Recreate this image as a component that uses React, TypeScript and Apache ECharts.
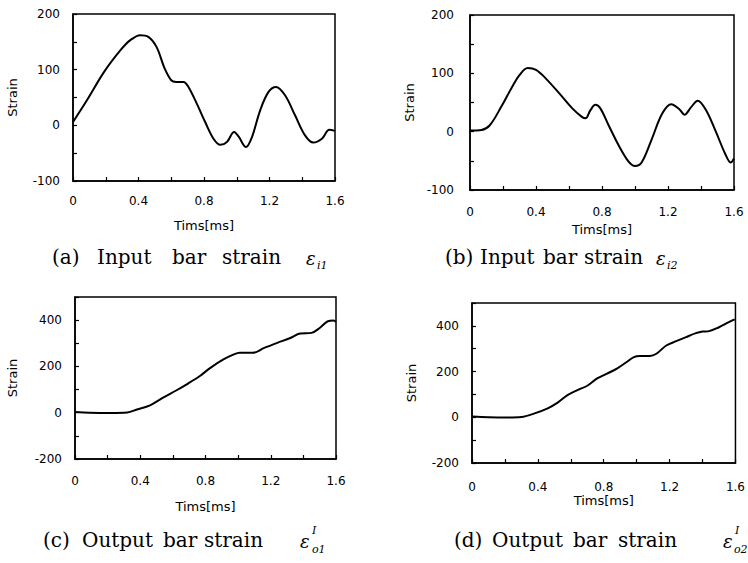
import React, { useEffect, useRef } from "react";
import * as echarts from "echarts";

// Panel (a): input bar strain eps_i1
const timeA = [0, 0.085, 0.19, 0.29, 0.35, 0.41, 0.46, 0.51, 0.56, 0.6, 0.63, 0.675, 0.705, 0.756, 0.807, 0.858, 0.9, 0.94, 0.984, 1.011, 1.056, 1.093, 1.143, 1.194, 1.24, 1.295, 1.356, 1.417, 1.468, 1.52, 1.565, 1.6];
const strainA = [6, 45, 96, 135, 153, 162, 159, 141, 102, 81, 78, 78, 69, 39, 6, -24, -35, -30, -12, -20, -39, -21, 27, 60, 69, 54, 18, -18, -31, -24, -8, -10];

// Panel (b): input bar strain eps_i2
const timeB = [0, 0.07, 0.12, 0.19, 0.25, 0.3, 0.35, 0.4, 0.46, 0.54, 0.62, 0.68, 0.7, 0.73, 0.76, 0.79, 0.84, 0.9, 0.96, 1.0, 1.04, 1.1, 1.165, 1.22, 1.27, 1.3, 1.34, 1.38, 1.43, 1.49, 1.545, 1.58, 1.6];
const strainB = [2, 3, 11, 43, 74, 97, 109, 106, 91, 66, 40, 25, 23, 37, 46, 40, 11, -23, -51, -59, -53, -14, 31, 47, 38, 29, 42, 53, 37, 0, -37, -53, -46];

// Panel (c): output bar strain eps_o1
const timeC = [0, 0.09, 0.22, 0.32, 0.38, 0.46, 0.54, 0.62, 0.69, 0.77, 0.83, 0.91, 0.97, 1.01, 1.09, 1.16, 1.24, 1.32, 1.38, 1.45, 1.5, 1.55, 1.585, 1.6];
const strainC = [3, 0, -1, 1, 14, 32, 65, 96, 125, 161, 194, 230, 251, 259, 259, 280, 302, 323, 342, 345, 366, 395, 398, 392];

// Panel (d): output bar strain eps_o2
const timeD = [0, 0.1, 0.22, 0.3, 0.38, 0.46, 0.52, 0.58, 0.64, 0.7, 0.76, 0.82, 0.88, 0.94, 0.98, 1.02, 1.08, 1.12, 1.18, 1.24, 1.3, 1.36, 1.4, 1.44, 1.5, 1.56, 1.595];
const strainD = [3, 0, -1, 1, 17, 39, 64, 97, 119, 138, 170, 191, 213, 242, 262, 268, 268, 278, 314, 333, 351, 368, 375, 377, 394, 416, 428];

const timeRange = [0, 1.6];
const timeStep = 0.4;
const inputRange = [-100, 200];
const inputStep = 100;
const outputRange = [-200, 500];
const outputStep = 200;

const axisName = "Tims[ms]";
const yName = "Strain";

const captionA = ["(a)", "Input", "bar", "strain"];
const captionB = ["(b)", "Input", "bar", "strain"];
const captionC = ["(c)", "Output", "bar", "strain"];
const captionD = ["(d)", "Output", "bar", "strain"];

const zip = (t: number[], v: number[]) => t.map((x, i) => [x, v[i]]);

const SANS = '"DejaVu Sans", sans-serif';
const SERIF = '"DejaVu Serif", serif';

export default function App() {
  const ref = useRef<HTMLDivElement>(null);
  useEffect(() => {
    if (!ref.current) return;
    const chart = echarts.init(ref.current, undefined, { renderer: "svg" });

    const grids = [
      { left: 73, top: 14, width: 262, height: 167 },
      { left: 470, top: 15, width: 264, height: 175 },
      { left: 75, top: 297, width: 261, height: 162 },
      { left: 472, top: 303, width: 264, height: 160 },
    ];
    const xLabelMargin = [14, 16, 16, 18];
    const xNameGap = [38, 33, 41, 28];
    const yLabelMargin = [13, 16, 13, 13];
    const yNameGap = [54, 54, 56, 54];
    const yRanges = [inputRange, inputRange, outputRange, outputRange];
    const ySteps = [inputStep, inputStep, outputStep, outputStep];
    const datas = [zip(timeA, strainA), zip(timeB, strainB), zip(timeC, strainC), zip(timeD, strainD)];

    const tickStyle = { show: true, inside: true, length: 4, lineStyle: { color: "#000", width: 1.2 } };
    const minorStyle = { show: true, splitNumber: 2, length: 4, lineStyle: { color: "#000", width: 1.2 } };

    const xAxis = grids.map((_, i) => ({
      type: "value",
      gridIndex: i,
      min: timeRange[0],
      max: timeRange[1],
      interval: timeStep,
      name: axisName,
      nameLocation: "middle",
      nameGap: xNameGap[i],
      nameTextStyle: { fontFamily: SANS, fontSize: 13, color: "#000" },
      axisLine: { show: true, onZero: false, lineStyle: { color: "#000", width: 1.5 } },
      axisTick: tickStyle,
      minorTick: minorStyle,
      splitLine: { show: false },
      axisLabel: {
        margin: xLabelMargin[i],
        fontFamily: SANS,
        fontSize: 12,
        color: "#000",
        formatter: (v: number) => String(Math.round(v * 10) / 10),
      },
    }));

    const yAxis = grids.map((_, i) => ({
      type: "value",
      gridIndex: i,
      min: yRanges[i][0],
      max: yRanges[i][1],
      interval: ySteps[i],
      name: yName,
      nameLocation: "middle",
      nameGap: yNameGap[i],
      nameTextStyle: { fontFamily: SANS, fontSize: 13, color: "#000" },
      axisLine: { show: true, onZero: false, lineStyle: { color: "#000", width: 1.5 } },
      axisTick: tickStyle,
      minorTick: minorStyle,
      splitLine: { show: false },
      axisLabel: {
        margin: yLabelMargin[i],
        fontFamily: SANS,
        fontSize: 12,
        color: "#000",
        showMaxLabel: i < 2,
      },
    }));

    const series = datas.map((d, i) => ({
      type: "line",
      xAxisIndex: i,
      yAxisIndex: i,
      data: d,
      smooth: 0.35,
      showSymbol: false,
      lineStyle: { color: "#000", width: 2 },
    }));

    const wordStyle = { font: `20px ${SERIF}`, fill: "#000", verticalAlign: "middle" };
    const words = (list: string[], xs: number[], y: number) =>
      list.map((w, k) => ({ type: "text", x: xs[k], y, style: { ...wordStyle, text: w } }));
    const eps = (x: number, y: number) => ({
      type: "text",
      x,
      y,
      style: { text: "ε", font: `italic 18px ${SERIF}`, fill: "#000", verticalAlign: "middle" },
    });
    const small = (t: string, x: number, y: number) => ({
      type: "text",
      x,
      y,
      style: { text: t, font: `italic 11px ${SERIF}`, fill: "#000", verticalAlign: "middle" },
    });

    const graphic = [
      ...words(captionA, [52, 97, 172, 222], 257),
      eps(306, 258),
      small("i1", 317, 265),
      ...words(captionB, [445, 480, 543, 584], 257),
      eps(656, 258),
      small("i2", 667, 265),
      ...words(captionC, [43, 82, 163, 204], 540),
      eps(300, 541),
      small("I", 312, 530),
      small("o1", 312, 549),
      ...words(captionD, [454, 492, 573, 618], 540),
      eps(723, 541),
      small("I", 735, 530),
      small("o2", 734, 549),
    ];

    chart.setOption({
      animation: false,
      backgroundColor: "#fff",
      grid: grids.map((g) => ({ ...g, show: true, borderColor: "#000", borderWidth: 1.5, backgroundColor: "transparent" })),
      xAxis,
      yAxis,
      series,
      graphic,
    });
    return () => chart.dispose();
  }, []);
  return <div ref={ref} style={{ position: "absolute", left: 0, top: 0, width: 748, height: 563 }} />;
}
